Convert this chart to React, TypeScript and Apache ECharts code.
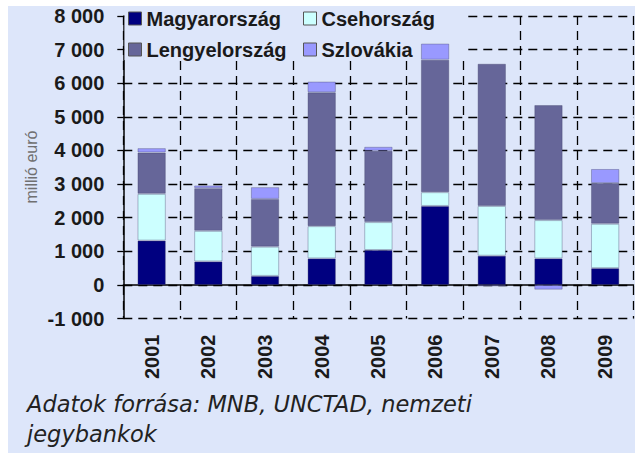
import React, { useEffect, useRef } from "react";
import * as echarts from "echarts";

const years = ["2001", "2002", "2003", "2004", "2005", "2006", "2007", "2008", "2009"];
const seriesNames = ["Magyarország", "Csehország", "Lengyelország", "Szlovákia"];
const hu = [1320, 700, 270, 790, 1040, 2350, 870, 790, 500];
const cz = [1390, 910, 870, 960, 830, 410, 1480, 1140, 1320];
const pl = [1230, 1270, 1420, 3980, 2120, 3940, 4230, 3420, 1210];
const sk = [130, 80, 350, 320, 120, 480, -40, -140, 420];
const colors = ["#000080", "#ccffff", "#666699", "#9999ff"];
const yAxisName = "millió euró";
const sourceLines = ["Adatok forrása: MNB, UNCTAD, nemzeti", "jegybankok"];

const fmt = (v: number) => {
  const s = Math.abs(v).toString().replace(/\B(?=(\d{3})+(?!\d))/g, " ");
  return (v < 0 ? "-" : "") + s;
};

export default function App() {
  const ref = useRef<HTMLDivElement>(null);
  useEffect(() => {
    document.body.style.margin = "0";
    if (!ref.current) return;
    const chart = echarts.init(ref.current, null, { renderer: "svg" });
    const dataSets = [hu, cz, pl, sk];
    const labelFont = "'Liberation Sans', Arial, sans-serif";
    const srcFont = "'DejaVu Sans', Verdana, sans-serif";
    const legendText = { fontSize: 20, lineHeight: 20, fontWeight: "bold", color: "#1a1a1a", fontFamily: labelFont };
    chart.setOption({
      animation: false,
      backgroundColor: "#ffffff",
      textStyle: { fontFamily: labelFont },
      grid: { left: 123.3, right: 1.5, top: 16, bottom: 134.4, containLabel: false },
      graphic: [
        { type: "rect", z: -10, silent: true, shape: { x: 8, y: 6, width: 627, height: 447 }, style: { fill: "#dde6fa" } },
        { type: "rect", z: 1, silent: true, shape: { x: 124.5, y: 6, width: 343, height: 54 }, style: { fill: "#dde6fa" } },
        {
          type: "text", x: 31, y: 167, rotation: Math.PI / 2, z: 5,
          style: { text: yAxisName, fontSize: 16, fill: "#707070", align: "center", verticalAlign: "middle", fontFamily: labelFont },
        },
        {
          type: "text", x: 27, y: 404, z: 5,
          style: { text: sourceLines[0], fontSize: 22.5, fontStyle: "italic", fill: "#222", verticalAlign: "middle", fontFamily: srcFont },
        },
        {
          type: "text", x: 27, y: 434, z: 5,
          style: { text: sourceLines[1], fontSize: 22.5, fontStyle: "italic", fill: "#222", verticalAlign: "middle", fontFamily: srcFont },
        },
      ],
      legend: [
        {
          data: [seriesNames[0], seriesNames[2]],
          orient: "vertical", left: 128, top: 8.5, padding: 0, itemGap: 11,
          itemWidth: 13, itemHeight: 13, icon: "rect",
          itemStyle: { borderColor: "#555", borderWidth: 1 },
          textStyle: legendText,
        },
        {
          data: [seriesNames[1], seriesNames[3]],
          orient: "vertical", left: 303, top: 8.5, padding: 0, itemGap: 11,
          itemWidth: 13, itemHeight: 13, icon: "rect",
          itemStyle: { borderColor: "#555", borderWidth: 1 },
          textStyle: legendText,
        },
      ],
      xAxis: [
        {
          type: "category", data: years, position: "bottom",
          axisLine: { show: false, onZero: false },
          axisTick: { show: false },
          axisLabel: { rotate: 90, margin: 16, fontSize: 20, fontWeight: "bold", color: "#1a1a1a", fontFamily: labelFont },
          splitLine: { show: true, lineStyle: { color: "#000", width: 1.3, type: [9, 6] } },
        },
        {
          type: "category", data: years, position: "bottom",
          axisLine: { show: true, onZero: true, lineStyle: { color: "#000", width: 1.5 } },
          axisTick: { show: true, length: 5, lineStyle: { color: "#000" } },
          axisLabel: { show: false },
          splitLine: { show: false },
        },
      ],
      yAxis: {
        type: "value", min: -1000, max: 8000, interval: 1000,
        axisLine: { show: true, lineStyle: { color: "#000", width: 1.5 } },
        axisTick: { show: true, length: 6, lineStyle: { color: "#000", width: 1.3 } },
        axisLabel: { margin: 19, fontSize: 20, fontWeight: "bold", color: "#1a1a1a", formatter: fmt, fontFamily: labelFont },
        splitLine: { show: true, lineStyle: { color: "#000", width: 1.3, type: [9, 6] } },
      },
      series: seriesNames.map((name, i) => ({
        name, type: "bar", stack: "total", xAxisIndex: 0, barWidth: "50%",
        data: dataSets[i],
        itemStyle: { color: colors[i], borderColor: "rgba(60,60,100,0.35)", borderWidth: 1 },
      })),
    });
    return () => chart.dispose();
  }, []);
  return <div ref={ref} style={{ width: 635, height: 453 }} />;
}
